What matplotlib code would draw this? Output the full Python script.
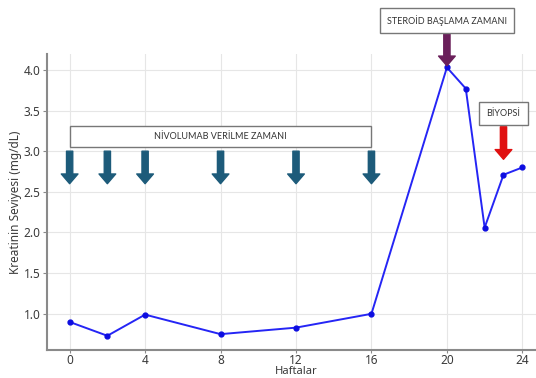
import matplotlib
matplotlib.use("Agg")
import matplotlib.pyplot as plt
from matplotlib.patches import Rectangle

plt.rcParams["font.family"] = ["Noto Sans", "DejaVu Sans"]

# Creatinine measurements by week
weeks = [0, 2, 4, 8, 12, 16, 20, 21, 22, 23, 24]
creatinine = [0.90, 0.73, 0.99, 0.75, 0.83, 1.00, 4.03, 3.77, 2.06, 2.71, 2.80]

# Event timing
nivolumab_weeks = [0, 2, 4, 8, 12, 16]
steroid_week = 20
biopsy_week = 23

xticks = [0, 4, 8, 12, 16, 20, 24]
yticks = [1.0, 1.5, 2.0, 2.5, 3.0, 3.5, 4.0]

fig = plt.figure(figsize=(5.36, 3.78), dpi=100)
ax_bottom = 28
ax_h = 296
ax = fig.add_axes([47 / 536, ax_bottom / 378, 498 / 536, ax_h / 378])

ax.plot(weeks, creatinine, color="#2525f5", lw=1.4, marker="o", ms=3.5,
        markerfacecolor="#0d0de0", markeredgecolor="#0d0de0", zorder=3)

ax.set_xticks(xticks)
ax.set_yticks(yticks)
ax.grid(True, color="#e6e6e6", lw=0.8)
ax.set_axisbelow(True)
for side in ("top", "right"):
    ax.spines[side].set_visible(False)
for side in ("left", "bottom"):
    ax.spines[side].set_color("#8a8a8a")
    ax.spines[side].set_linewidth(1.5)
ax.tick_params(colors="#8a8a8a", labelcolor="#3a3a3a", labelsize=8.5, length=3)
ax.tick_params(axis="x", pad=0.3, length=2.5)
ax.tick_params(axis="y", pad=1.5)
ax.set_xlabel("Haftalar", fontsize=8, color="#3a3a3a", va="bottom")
ax.xaxis.set_label_coords(0.5, -(ax_bottom - 0.5) / ax_h)
ax.set_ylabel("Kreatinin Seviyesi (mg/dL)", fontsize=8.5, color="#3a3a3a", labelpad=1)

box_font = dict(family=["Lato", "DejaVu Sans"], fontsize=6.5, color="#333333")

def down_arrow(x, y_top, y_tip, color):
    ax.annotate("", xy=(x, y_tip), xytext=(x, y_top),
                arrowprops=dict(facecolor=color, edgecolor=color, width=4.5,
                                headwidth=12, headlength=7, shrink=0.0),
                annotation_clip=False, zorder=4)

# Nivolumab doses
for w in nivolumab_weeks:
    down_arrow(w, 3.0, 2.6, "#1d5b7a")
ax.add_patch(Rectangle((min(nivolumab_weeks), 3.05),
                       max(nivolumab_weeks) - min(nivolumab_weeks), 0.26,
                       facecolor="white", edgecolor="#777777", lw=1.0, zorder=4))
ax.text((min(nivolumab_weeks) + max(nivolumab_weeks)) / 2, 3.18,
        "NİVOLUMAB VERİLME ZAMANI", ha="center", va="center", zorder=5, **box_font)

# Steroid start
down_arrow(steroid_week, 4.48, 4.05, "#6a1f5a")
ax.text(steroid_week, 4.61, "STEROİD BAŞLAMA ZAMANI", ha="center", va="center",
        zorder=5, clip_on=False,
        bbox=dict(boxstyle="square,pad=0.8", facecolor="white",
                  edgecolor="#777777", lw=1.0), **box_font)

# Biopsy
down_arrow(biopsy_week, 3.30, 2.90, "#e01010")
ax.text(biopsy_week, 3.46, "BİYOPSİ", ha="center", va="center", zorder=5,
        bbox=dict(boxstyle="square,pad=0.8", facecolor="white",
                  edgecolor="#777777", lw=1.0), **box_font)

ax.set_xlim(-1.2, 25.2)
ax.set_ylim(0.555, 4.195)

fig.savefig("out.png", dpi=100)
